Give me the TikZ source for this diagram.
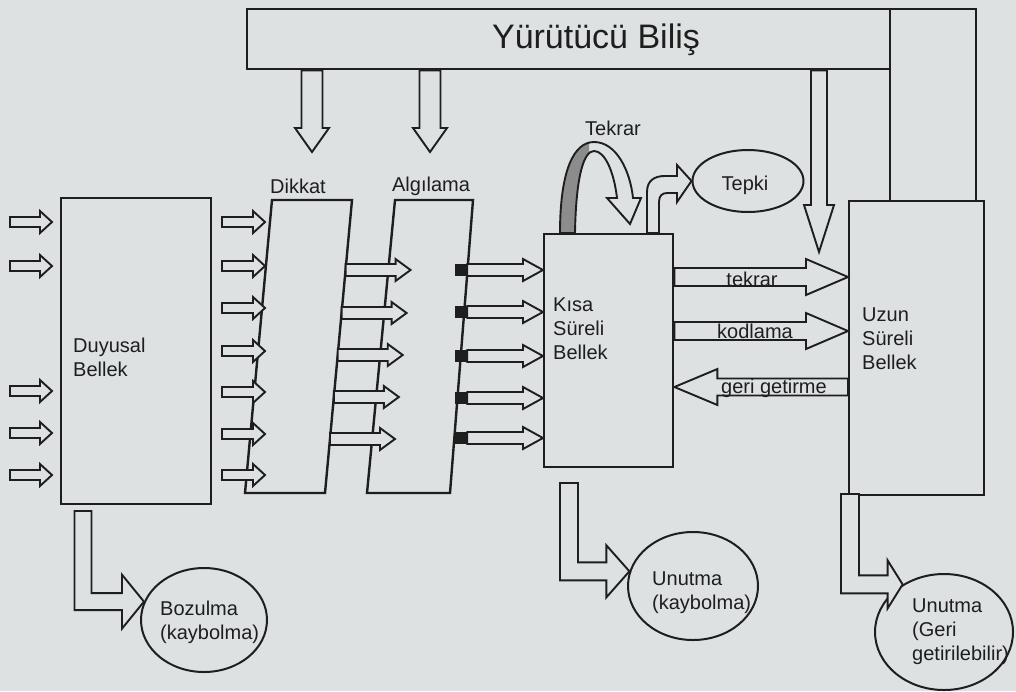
\documentclass[tikz,border=0pt]{standalone}
\usepackage{fontspec}
\setmainfont{Liberation Sans}
\usetikzlibrary{positioning,calc,shapes.geometric}

\definecolor{paper}{RGB}{221,225,226}
\definecolor{ink}{RGB}{30,30,30}
\definecolor{band}{RGB}{140,140,140}

% hollow block arrow: start, tip, shaft half width, head half width, head length
\newcommand\fatarrow[5]{%
  \coordinate (fa base) at ($(#2)!#5pt!(#1)$);
  \draw[hollow] ($(#1)!#3pt!90:(#2)$) -- ($(fa base)!#3pt!90:(#2)$)
    -- ($(fa base)!#4pt!90:(#2)$) -- (#2) -- ($(fa base)!#4pt!-90:(#2)$)
    -- ($(fa base)!#3pt!-90:(#2)$) -- ($(#1)!#3pt!-90:(#2)$) -- cycle;}

% hollow arrow going down, then right to the tip
\newcommand\bentarrow[5]{%
  \draw[hollow] ($(#1)+(-#3,0)$) -- ($(#1 |- #2)+(-#3,#3)$) -- ($(#2)+(-#5,#3)$)
    -- ($(#2)+(-#5,#4)$) -- (#2) -- ($(#2)+(-#5,-#4)$) -- ($(#2)+(-#5,-#3)$)
    -- ($(#1 |- #2)+(#3,-#3)$) -- ($(#1)+(#3,0)$) -- cycle;}

\def\tekrarloop{(560,233) .. controls (560,170) and (574,142) .. (594,142)
  .. controls (616,142) and (630,170) .. (633,198) -- (641,198) -- (630,224)
  -- (607,198) -- (617,198) .. controls (614,172) and (605,151) .. (594,151)
  .. controls (584,151) and (576,175) .. (575,233) -- cycle}

\begin{document}
\begin{tikzpicture}[x=1pt,y=-1pt,
  box/.style={draw=ink, line width=2.4pt, fill=paper, inner sep=0pt},
  hollow/.style={draw=ink, fill=paper, line width=1.9pt, line join=miter},
  oval/.style={ellipse, draw=ink, line width=2pt, fill=paper, inner sep=0pt},
  txt/.style={text=ink, inner sep=0pt, font=\fontsize{20}{24}\selectfont, align=left},
  ]
  \fill[paper] (0,0) rectangle (1016,691);
  \useasboundingbox (0,0) rectangle (1016,691);

  \node[box, anchor=north west, minimum width=643, minimum height=60] (yurutucu) at (246,8) {};
  \node[box, anchor=north west, minimum width=86, minimum height=192] (sutun) at (889,8) {};
  \node[box, anchor=north west, minimum width=135, minimum height=294] (uzun) at (848,200) {};
  \node[txt, font=\fontsize{34}{40}\selectfont] (yb text) at (596,40) {Yürütücü Biliş};
  \node[txt, anchor=west] (uzun text) at (862,339) {Uzun\\Süreli\\Bellek};

  \node[box, anchor=north west, minimum width=150, minimum height=306] (duyusal) at (60,197) {};
  \node[txt, anchor=west] (duyusal text) at (73,357) {Duyusal\\Bellek};

  \coordinate (dk tl) at (272,200);
  \coordinate (dk tr) at (352,200);
  \coordinate (dk br) at (325,493);
  \coordinate (dk bl) at (245,493);
  \draw[box] (dk tl) -- (dk tr) -- (dk br) -- (dk bl) -- cycle;
  \node[txt] (dikkat) at (298,186) {Dikkat};

  \coordinate (ag tl) at (395,200);
  \coordinate (ag tr) at (473,200);
  \coordinate (ag br) at (450,493);
  \coordinate (ag bl) at (367,493);
  \draw[box] (ag tl) -- (ag tr) -- (ag br) -- (ag bl) -- cycle;
  \node[txt] (algilama) at (431,186) {Algılama};

  \node[box, anchor=north west, minimum width=129, minimum height=233] (kisa) at (543,233) {};
  \node[txt, anchor=west] (kisa text) at (553,329) {Kısa\\Süreli\\Bellek};

  \node[oval, minimum width=111, minimum height=62] (tepki) at (748,181) {};
  \node[txt] (tepki text) at (745,185) {Tepki};
  \node[oval, minimum width=126, minimum height=104] (bozulma) at (204,620) {};
  \node[txt, anchor=west] (bozulma text) at (160,622) {Bozulma\\(kaybolma)};
  \node[oval, minimum width=130, minimum height=108] (unutma k) at (693,586) {};
  \node[txt, anchor=west] (unutma k text) at (652,593) {Unutma\\(kaybolma)};
  \node[oval, minimum width=138, minimum height=116] (unutma g) at (944,632) {};
  \node[txt, anchor=west] (unutma g text) at (912,632) {Unutma\\(Geri\\getirilebilir)};

  % yurutucu bilis arrows
  \coordinate (ok1) at (312,152);
  \coordinate (ok2) at (430,152);
  \coordinate (ok3) at (819,252);
  \fatarrow{312,0 |- yurutucu.south}{ok1}{10.5}{17}{24}
  \fatarrow{430,0 |- yurutucu.south}{ok2}{10.5}{17}{24}
  \fatarrow{819,0 |- yurutucu.south}{ok3}{8}{15}{47}

  % inputs
  \foreach \y in {222,266,391,433,475} {
    \fatarrow{10,\y}{52,\y}{5}{11}{12}
  }
  \foreach \y in {222,266,308,351,392,434,475} {
    \fatarrow{222,\y}{265,\y}{5}{11}{12}
  }
  \foreach \y [count=\i] in {270,313,355,397,439} {
    \coordinate (da\i) at ($(dk tr)!{(\y-200)/293}!(dk br)$);
    \coordinate (db\i) at ($(da\i)+(65,0)$);
    \fatarrow{da\i}{db\i}{6}{11}{15}
  }
  \foreach \y [count=\i] in {270,312,356,398,438} {
    \node[fill=ink, minimum size=12, inner sep=0pt] (sq\i) at (461,\y) {};
    \fatarrow{sq\i.east}{kisa.west |- sq\i}{6}{11}{20}
  }

  % kisa <-> uzun
  \fatarrow{kisa.east |- 0,277}{uzun.west |- 0,277}{9}{18}{42}
  \fatarrow{kisa.east |- 0,331}{uzun.west |- 0,331}{9}{18}{42}
  \fatarrow{uzun.west |- 0,387}{kisa.east |- 0,387}{8.5}{18}{43}
  \node[txt] (tekrar lbl) at (752,279) {tekrar};
  \node[txt] (kodlama lbl) at (755,331) {kodlama};
  \node[txt] (geri lbl) at (774,388) {geri getirme};

  % tekrar loop and tepki
  \begin{scope}
    \clip (540,140) rectangle (589,235);
    \fill[band] \tekrarloop;
  \end{scope}
  \draw[hollow, fill=none] \tekrarloop;
  \node[txt] (tekrar) at (613,128) {Tekrar};
  \draw[hollow] (647,233) -- (647,192) .. controls (647,180) and (655,176) .. (665,176)
    -- (677,176) -- (677,165) -- (tepki.west) -- (677,202) -- (677,193) -- (667,193)
    .. controls (662,193) and (659,196) .. (659,202) -- (659,233) -- cycle;

  % forgetting
  \coordinate (bz src) at (83,511);
  \coordinate (uk src) at (569,483);
  \coordinate (ug src) at (850,494);
  \bentarrow{bz src}{bozulma.163}{8.5}{27}{22}
  \bentarrow{uk src}{unutma k.167}{9}{26}{23}
  \bentarrow{ug src}{unutma g.131}{9}{24}{15}
\end{tikzpicture}
\end{document}
